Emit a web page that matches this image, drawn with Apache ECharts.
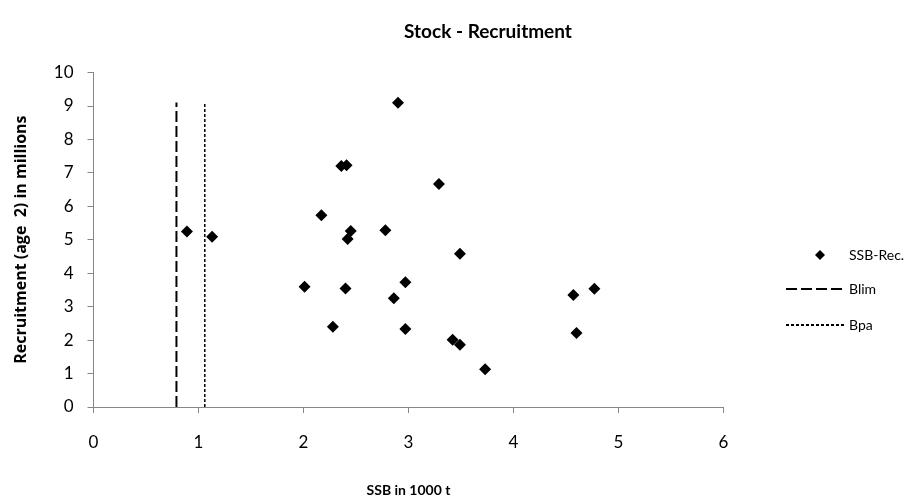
<!DOCTYPE html>
<html>
<head>
<meta charset="utf-8">
<script src="https://cdn.jsdelivr.net/npm/echarts@6/dist/echarts.min.js"></script>
<style>html,body{margin:0;padding:0;background:#fff}#c{width:917px;height:502px}</style>
</head>
<body>
<div id="c"></div>
<script>
var ssb = [2.90, 2.36, 2.41, 3.29, 2.17, 0.89, 1.13, 2.45, 2.42, 2.78, 2.01, 2.40, 2.97, 2.86, 2.28, 2.97, 3.49, 3.42, 3.49, 3.73, 4.57, 4.77, 4.60];
var rec = [9.09, 7.20, 7.22, 6.66, 5.73, 5.24, 5.09, 5.26, 5.02, 5.28, 3.59, 3.54, 3.73, 3.25, 2.40, 2.33, 4.58, 2.01, 1.86, 1.13, 3.35, 3.53, 2.21];
var blimX = [0.79, 0.79];
var blimY = [0, 9.1];
var bpaX = [1.06, 1.06];
var bpaY = [0, 9.1];
var seriesNames = ['SSB-Rec.', 'Blim', 'Bpa'];
var titleText = 'Stock - Recruitment';
var xName = 'SSB in 1000 t';
var yName = 'Recruitment (age  2) in millions';

function pairs(xs, ys) { return xs.map(function (x, i) { return [x, ys[i]]; }); }

var FONT = 'Lato, "Open Sans", sans-serif';
var chart = echarts.init(document.getElementById('c'), null, { renderer: 'canvas' });
chart.setOption({
  animation: false,
  backgroundColor: '#fff',
  textStyle: { fontFamily: FONT },
  title: {
    text: titleText, left: 483, top: 17, textAlign: 'center',
    textStyle: { fontFamily: FONT, fontSize: 19, fontWeight: 'bold', color: '#000' }
  },
  legend: [
    {
      orient: 'vertical', left: 810, top: 243,
      itemWidth: 10, itemHeight: 10,
      textStyle: { fontFamily: FONT, fontSize: 14, color: '#000', padding: [0, 0, 0, 19] },
      data: [{ name: seriesNames[0], icon: 'diamond', itemStyle: { color: '#000', opacity: 1 } }]
    },
    {
      orient: 'vertical', left: 780, top: 277,
      itemWidth: 58, itemHeight: 14, itemGap: 22,
      textStyle: { fontFamily: FONT, fontSize: 14, color: '#000' },
      data: [
        { name: seriesNames[1], itemStyle: { opacity: 0 } },
        { name: seriesNames[2], itemStyle: { opacity: 0 } }
      ]
    }
  ],
  grid: { left: 93.5, right: 193.5, top: 72.3, bottom: 94.7, containLabel: false },
  xAxis: {
    type: 'value', min: 0, max: 6, interval: 1,
    name: xName, nameLocation: 'middle', nameGap: 76,
    nameTextStyle: { fontFamily: FONT, fontSize: 14, fontWeight: 'bold', color: '#000' },
    axisLine: { show: true, onZero: false, lineStyle: { color: '#868686', width: 1 } },
    axisTick: { show: true, inside: false, length: 6, lineStyle: { color: '#868686' } },
    axisLabel: { margin: 27, fontFamily: FONT, fontSize: 17, color: '#000' },
    splitLine: { show: false }
  },
  yAxis: {
    type: 'value', min: 0, max: 10, interval: 1,
    name: yName, nameLocation: 'middle', nameGap: 64, nameRotate: 90,
    nameTextStyle: { fontFamily: '"Open Sans", Lato, sans-serif', fontSize: 16, fontWeight: 'bold', color: '#000' },
    axisLine: { show: true, lineStyle: { color: '#868686', width: 1 } },
    axisTick: { show: true, inside: false, length: 6, lineStyle: { color: '#868686' } },
    axisLabel: { margin: 20, fontFamily: FONT, fontSize: 17, color: '#000' },
    splitLine: { show: false }
  },
  series: [
    {
      name: seriesNames[0], type: 'scatter', symbol: 'diamond', symbolSize: 12,
      itemStyle: { color: '#000', opacity: 1 },
      data: pairs(ssb, rec), z: 3
    },
    {
      name: seriesNames[1], type: 'line', symbol: 'none',
      lineStyle: { color: '#000', width: 2, type: [11, 4] },
      itemStyle: { color: '#000' },
      data: pairs(blimX, blimY)
    },
    {
      name: seriesNames[2], type: 'line', symbol: 'none',
      lineStyle: { color: '#000', width: 1.5, type: [3, 2] },
      itemStyle: { color: '#000' },
      data: pairs(bpaX, bpaY)
    }
  ]
});
</script>
</body>
</html>
